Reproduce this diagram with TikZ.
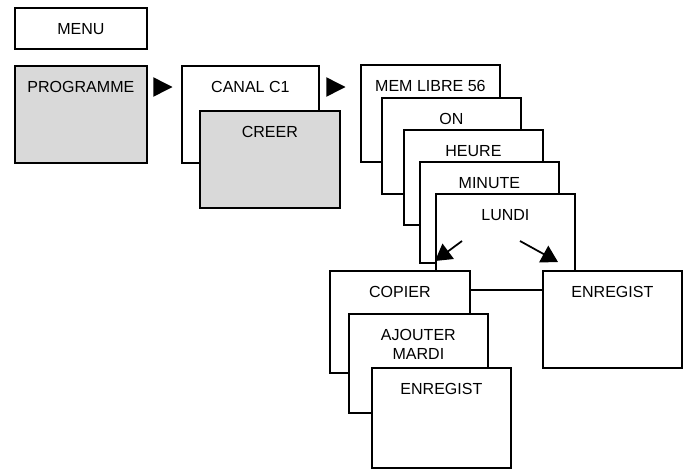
\documentclass[tikz,border=0pt]{standalone}
\usepackage{fontspec}
\setmainfont{Liberation Sans}
\usetikzlibrary{calc}
\usetikzlibrary{shapes.geometric}
\usetikzlibrary{arrows.meta}

\begin{document}
\begin{tikzpicture}[x=.025cm, y=-.025cm,
    caixa/.style={draw, line width=1.25pt, fill=white, anchor=north west,
      inner sep=0pt, align=center, text height=.675cm,
      font=\fontsize{11.4}{13.2}\selectfont},
    marca/.style={isosceles triangle, isosceles triangle stretches,
      fill=black, inner sep=0pt, minimum width=.49cm, minimum height=.48cm,
      anchor=west},
    seta/.style={-{Triangle[length=.41cm, width=.47cm]}, line width=1.25pt}]

  %--------------------------------------------
  % Moldura (tamanho fixo da figura)
  %--------------------------------------------
  \useasboundingbox (0,0) rectangle (690,468);

  %--------------------------------------------
  % Menu e primeira coluna
  %--------------------------------------------
  \node[caixa, minimum width=3.3cm, text depth=.35cm] (menu) at (14,7) {MENU};
  \node[caixa, fill=gray!30, minimum width=3.3cm, text depth=1.75cm]
    (prog) at (14,65) {PROGRAMME};

  % Triangulo entre as colunas
  \node[marca] (m1) at (153,87) {};

  %--------------------------------------------
  % Segunda coluna (canal)
  %--------------------------------------------
  \node[caixa, minimum width=3.425cm, text depth=1.75cm]
    (canal) at (181,65) {CANAL C1};
  \node[caixa, fill=gray!30, minimum width=3.5cm, text depth=1.75cm]
    (creer) at (199,110) {CREER};

  \node[marca] (m2) at (326,87) {};

  %--------------------------------------------
  % Pilha de telas do programa
  % Cada item: x/y (canto) / altura / nome / texto
  %--------------------------------------------
  \foreach \x/\y/\h/\nome/\texto
    [evaluate=\h as \p using (\h-27)*0.025] in
    {360/64/97/mem/MEM LIBRE 56, 381/97/96/on/ON, 403/129/95/heure/HEURE,
     419/161/101/minute/MINUTE, 435/193/96/lundi/LUNDI}
  {
    \node[caixa, minimum width=3.475cm, text depth=\p cm]
      (\nome) at (\x,\y) {\texto};
  }

  % Setas que saem de LUNDI
  \coordinate (e1) at ($(lundi.north west)+(27,48)$);
  \coordinate (e2) at ($(lundi.north west)+(0,68)$);
  \coordinate (d1) at ($(lundi.north west)+(85,48)$);
  \coordinate (d2) at ($(lundi.north west)+(123,69)$);
  \draw[seta] (e1) -- (e2);
  \draw[seta] (d1) -- (d2);

  %--------------------------------------------
  % Ramo da esquerda (copiar)
  %--------------------------------------------
  \node[caixa, minimum width=3.5cm, text depth=1.875cm]
    (copier) at (329,270) {COPIER};
  % duas linhas: a base fica na ultima linha
  \node[caixa, minimum width=3.475cm, text height=1.1375cm, text depth=1.3375cm]
    (ajout) at (348,313) {AJOUTER\\MARDI};
  \node[caixa, minimum width=3.475cm, text depth=1.825cm]
    (enreg) at (371,367) {ENREGIST};

  %--------------------------------------------
  % Ramo da direita (gravar)
  %--------------------------------------------
  \node[caixa, minimum width=3.475cm, text depth=1.75cm]
    (enregd) at (542,270) {ENREGIST};

\end{tikzpicture}
\end{document}
